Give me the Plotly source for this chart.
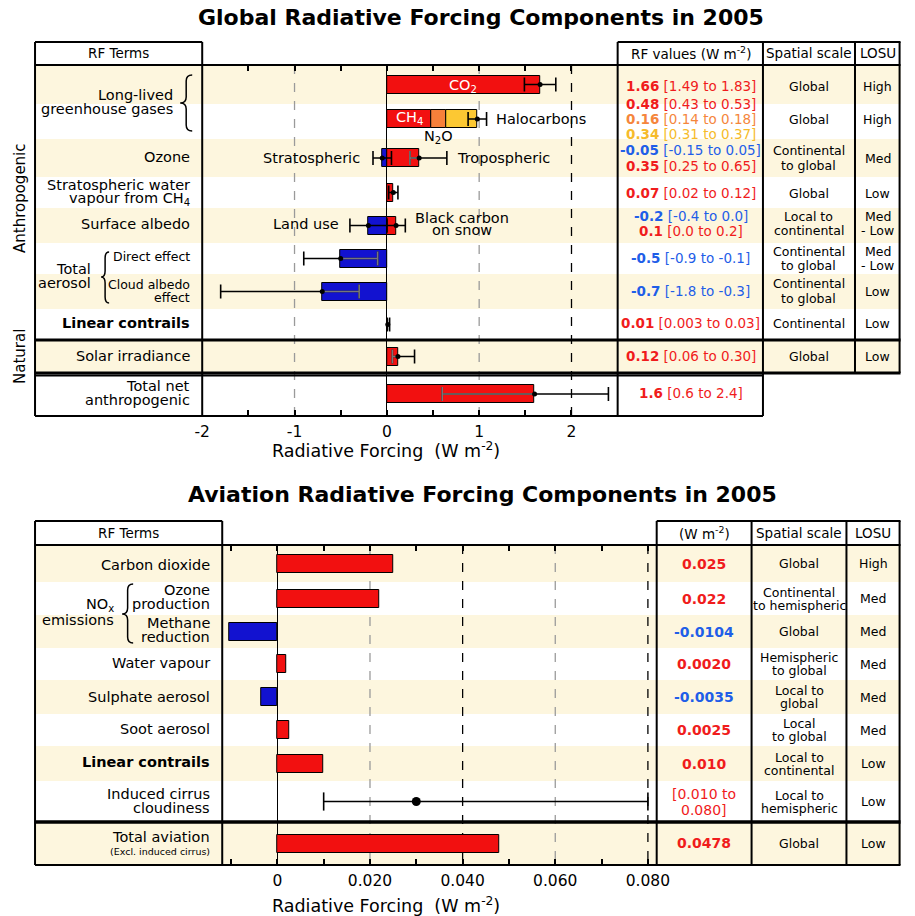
import plotly.graph_objects as go

W, H = 915, 916
FONT = "DejaVu Sans, Verdana, sans-serif"

RED = "#f21010"
BLUE = "#1212d0"
ORANGE = "#f7803a"
YELLOW = "#fcc833"
BEIGE = "#fdf6de"
TXT = {"pos": "#f01c1c", "neg": "#1f5ee8", "n2o": "#f5863c", "halo": "#f6bb2a"}
BAR = {"pos": RED, "neg": BLUE, "n2o": ORANGE, "halo": YELLOW}

# ---------------- global RF (W m-2) ----------------
glob_terms = ["CO2", "CH4 / N2O / Halocarbons", "Ozone", "Stratospheric water vapour",
              "Surface albedo", "Direct effect", "Cloud albedo effect",
              "Linear contrails", "Solar irradiance", "Total net anthropogenic"]
glob_bar_names = ["CO2", "CH4", "N2O", "Halocarbons", "Stratospheric O3", "Tropospheric O3",
                  "Strat. water vapour", "Land use", "Black carbon on snow", "Direct effect",
                  "Cloud albedo effect", "Linear contrails", "Solar irradiance", "Total net"]
glob_bar_rows = [0, 1, 1, 1, 2, 2, 3, 4, 4, 5, 6, 7, 8, 9]
glob_bar_values = [1.66, 0.48, 0.16, 0.34, -0.05, 0.35, 0.07, -0.2, 0.1, -0.5, -0.7, 0.01, 0.12, 1.6]
glob_bar_kind = ["pos", "pos", "n2o", "halo", "neg", "pos", "pos", "neg", "pos", "neg", "neg",
                 "pos", "pos", "pos"]

glob_err_rows = [0, 1, 2, 2, 3, 4, 4, 5, 6, 7, 8, 9]
glob_err_mid = [1.66, 0.98, -0.05, 0.35, 0.07, -0.2, 0.1, -0.5, -0.7, 0.01, 0.12, 1.6]
glob_err_lo = [1.49, 0.88, -0.15, 0.25, 0.02, -0.4, 0.0, -0.9, -1.8, 0.003, 0.06, 0.6]
glob_err_hi = [1.83, 1.08, 0.05, 0.65, 0.12, 0.0, 0.2, -0.1, -0.3, 0.03, 0.30, 2.4]
glob_err_grey = [False, False, False, True, False, False, False, True, True, False, True, True]

glob_val_text = ["1.66", "0.48", "0.16", "0.34", "-0.05", "0.35", "0.07", "-0.2", "0.1",
                 "-0.5", "-0.7", "0.01", "0.12", "1.6"]
glob_range_text = ["[1.49 to 1.83]", "[0.43 to 0.53]", "[0.14 to 0.18]", "[0.31 to 0.37]",
                   "[-0.15 to 0.05]", "[0.25 to 0.65]", "[0.02 to 0.12]", "[-0.4 to 0.0]",
                   "[0.0 to 0.2]", "[-0.9 to -0.1]", "[-1.8 to -0.3]", "[0.003 to 0.03]",
                   "[0.06 to 0.30]", "[0.6 to 2.4]"]
glob_scale = ["Global", "Global", "Continental\nto global", "Global", "Local to\ncontinental",
              "Continental\nto global", "Continental\nto global", "Continental", "Global"]
glob_losu = ["High", "High", "Med", "Low", "Med\n- Low", "Med\n- Low", "Low", "Low", "Low"]

# ---------------- aviation RF (W m-2) ----------------
av_terms = ["Carbon dioxide", "Ozone production", "Methane reduction", "Water vapour",
            "Sulphate aerosol", "Soot aerosol", "Linear contrails",
            "Induced cirrus cloudiness", "Total aviation"]
av_bar_rows = [0, 1, 2, 3, 4, 5, 6, 8]
av_bar_values = [0.025, 0.022, -0.0104, 0.0020, -0.0035, 0.0025, 0.010, 0.0478]
av_cirrus = [0.010, 0.030, 0.080]  # low, best, high
av_val_text = ["0.025", "0.022", "-0.0104", "0.0020", "-0.0035", "0.0025", "0.010",
               "[0.010 to\n0.080]", "0.0478"]
av_scale = ["Global", "Continental\nto hemispheric", "Global", "Hemispheric\nto global",
            "Local to\nglobal", "Local\nto global", "Local to\ncontinental",
            "Local to\nhemispheric", "Global"]
av_losu = ["High", "Med", "Med", "Med", "Med", "Med", "Low", "Low", "Low"]

# ---------------- layout in pixels ----------------
G_ROWS = [65, 104, 139, 177, 208, 243, 274, 309, 340, 373, 416]
A_ROWS = [545, 582, 615, 648, 680, 714, 746, 781, 822, 865]
g_mid = [(G_ROWS[i] + G_ROWS[i + 1]) / 2 for i in range(10)]
g_mid[1] = 119
g_mid[9] = 394
a_mid = [(A_ROWS[i] + A_ROWS[i + 1]) / 2 for i in range(9)]

shapes, ann = [], []

# the photographed page comes out shifted ~8px and squeezed ~2.4% horizontally;
# undo that, and squeeze the right-hand table columns a touch so they still fit
SQ, SHIFT, BREAK = 0.976, 8, 656


def page_x(x):
    p = (x - SHIFT) / SQ
    if x <= BREAK:
        return p
    pb = (BREAK - SHIFT) / SQ
    return pb + (x - BREAK) * (913.5 - pb) / (913 - BREAK)


def px(x):
    return page_x(x) / W


def py(y):
    return 1 - y / H


def text(x, y, s, size=14, color="black", anchor="center", bold=False, lh=None, angle=0):
    lines = s.split("\n")
    lh = lh or size * 1.08
    y0 = y - lh * (len(lines) - 1) / 2
    for i, ln in enumerate(lines):
        ann.append(dict(x=px(x), y=py(y0 + i * lh), xref="paper", yref="paper",
                        text=f"<b>{ln}</b>" if bold else ln, showarrow=False,
                        xanchor=anchor, yanchor="middle", textangle=angle,
                        font=dict(family=FONT, size=size, color=color)))


def hline(y, x0, x1, w=2):
    shapes.append(dict(type="line", xref="paper", yref="paper", x0=px(x0), x1=px(x1),
                       y0=py(y), y1=py(y), line=dict(color="black", width=w), layer="above"))


def vline(x, y0, y1, w=2):
    shapes.append(dict(type="line", xref="paper", yref="paper", x0=px(x), x1=px(x),
                       y0=py(y0), y1=py(y1), line=dict(color="black", width=w), layer="above"))


def band(y0, y1, x0=35, x1=913):
    shapes.append(dict(type="rect", xref="paper", yref="paper", x0=px(x0), x1=px(x1),
                       y0=py(y0), y1=py(y1), fillcolor=BEIGE, line=dict(width=0), layer="below"))


def brace(xt, xr, y0, y1, ym):
    xm = (xt + xr) / 2
    r = 6
    pts = (f"M {px(xr)},{py(y0)} Q {px(xm)},{py(y0)} {px(xm)},{py(y0 + r)} "
           f"L {px(xm)},{py(ym - r)} Q {px(xm)},{py(ym)} {px(xt)},{py(ym)} "
           f"Q {px(xm)},{py(ym)} {px(xm)},{py(ym + r)} "
           f"L {px(xm)},{py(y1 - r)} Q {px(xm)},{py(y1)} {px(xr)},{py(y1)}")
    shapes.append(dict(type="path", xref="paper", yref="paper", path=pts,
                       line=dict(color="black", width=1.5)))


def grid(xv, y0, y1, color, xref, yref):
    shapes.append(dict(type="line", xref=xref, yref=yref, x0=xv, x1=xv, y0=y0, y1=y1,
                       line=dict(color=color, width=1.3, dash="dash"), layer="below"))


fig = go.Figure()

# ---------------- top panel ----------------
for i in [0, 2, 4, 6, 8]:
    band(G_ROWS[i], G_ROWS[i + 1])
grid(-1, 65, 416, "#9a9a9a", "x", "y")
grid(1, 65, 416, "#9a9a9a", "x", "y")
grid(2, 65, 416, "black", "x", "y")

for name, r, v, k in zip(glob_bar_names, glob_bar_rows, glob_bar_values, glob_bar_kind):
    h = 12 if name == "Linear contrails" else 18
    fig.add_trace(go.Bar(x=[v], y=[g_mid[r]], orientation="h", width=h, name=name,
                         marker=dict(color=BAR[k], line=dict(color="black", width=1)),
                         showlegend=False, xaxis="x", yaxis="y"))


def err_traces(rows, mids, los, his, greys, ycoord, xa, ya, cap=10, dot=5):
    lx, ly, cx, cy, gx, gy, gcx, gcy = [], [], [], [], [], [], [], []
    for r, m, lo, hi, g in zip(rows, mids, los, his, greys):
        yc = ycoord[r]
        lx += [lo, hi, None]
        ly += [yc, yc, None]
        cx += [lo, hi]
        cy += [yc, yc]
        if g:
            inner = lo if m > 0 else hi
            gx += [inner, m, None]
            gy += [yc, yc, None]
            gcx.append(inner)
            gcy.append(yc)
    kw = dict(showlegend=False, xaxis=xa, yaxis=ya, hoverinfo="skip")
    fig.add_trace(go.Scatter(x=lx, y=ly, mode="lines", line=dict(color="black", width=1.5), **kw))
    fig.add_trace(go.Scatter(x=cx, y=cy, mode="markers",
                             marker=dict(symbol="line-ns", size=cap,
                                         line=dict(color="black", width=1.6)), **kw))
    if gx:
        fig.add_trace(go.Scatter(x=gx, y=gy, mode="lines", line=dict(color="#777777", width=1.5), **kw))
        fig.add_trace(go.Scatter(x=gcx, y=gcy, mode="markers",
                                 marker=dict(symbol="line-ns", size=cap,
                                             line=dict(color="#777777", width=1.6)), **kw))
    fig.add_trace(go.Scatter(x=mids, y=[ycoord[r] for r in rows], mode="markers",
                             marker=dict(color="black", size=dot), **kw))


err_traces(glob_err_rows, glob_err_mid, glob_err_lo, glob_err_hi, glob_err_grey, g_mid, "x", "y")

# ---------------- bottom panel ----------------
for i in [0, 2, 4, 6, 8]:
    band(A_ROWS[i], A_ROWS[i + 1])
grid(0.02, 545, 865, "#9a9a9a", "x2", "y2")
grid(0.04, 545, 865, "black", "x2", "y2")
grid(0.06, 545, 865, "#9a9a9a", "x2", "y2")
grid(0.08, 545, 865, "black", "x2", "y2")

for r, v in zip(av_bar_rows, av_bar_values):
    fig.add_trace(go.Bar(x=[v], y=[a_mid[r]], orientation="h", width=18, name=av_terms[r],
                         marker=dict(color=RED if v > 0 else BLUE, line=dict(color="black", width=1)),
                         showlegend=False, xaxis="x2", yaxis="y2"))
err_traces([7], [av_cirrus[1]], [av_cirrus[0]], [av_cirrus[2]], [False], a_mid, "x2", "y2",
           cap=13, dot=9)

# ---------------- table frames ----------------
# top
hline(42, 35, 202)
hline(42, 617, 913)
hline(65, 35, 913)
hline(340, 35, 913, 3)
hline(373, 35, 913, 3)
hline(375.5, 35, 768, 2)
hline(416, 35, 768)
vline(35, 42, 416)
vline(202, 42, 416)
vline(617, 42, 416)
vline(768, 42, 416)
vline(865, 42, 373)
vline(912, 42, 373)
# bottom
hline(521, 35, 222)
hline(521, 656, 913)
hline(545, 35, 913)
hline(822, 35, 913, 3.5)
hline(865, 35, 913)
for xx in [35, 222, 656, 756, 856, 912]:
    vline(xx, 521, 865)

# ---------------- texts ----------------
text(480, 18, "<b>Global Radiative Forcing Components in 2005</b>", size=22)
text(482, 494, "<b>Aviation Radiative Forcing Components in 2005</b>", size=22)

text(118, 53, "RF Terms", 13.5)
text(692, 53, "RF values (W m<sup>-2</sup>)", 13.5)
text(816, 53, "Spatial scale", 13.5)
text(889, 53, "LOSU", 13.5)

text(175, 102, "Long-lived\ngreenhouse gases", 14.5, anchor="right", lh=14)
brace(180, 192, 75, 131, 103)
text(192, 157, "Ozone", 14.5, anchor="right")
text(192, 192, "Stratospheric water\nvapour from CH<sub>4</sub>", 14.5, anchor="right", lh=14)
text(192, 224, "Surface albedo", 14.5, anchor="right")
text(93, 276, "Total\naerosol", 14.5, anchor="right", lh=14)
brace(101, 109, 252, 303, 277)
text(192, 257, "Direct effect", 12.5, anchor="right")
text(192, 291, "Cloud albedo\neffect", 12.5, anchor="right", lh=13)
text(192, 323, "Linear contrails", 14.5, anchor="right", bold=True)
text(192, 356, "Solar irradiance", 14.5, anchor="right")
text(192, 393, "Total net\nanthropogenic", 14.5, anchor="right", lh=14)
text(20, 198, "Anthropogenic", 15, angle=-90)
text(20, 357, "Natural", 15, angle=-90)

text(463, 86, "CO<sub>2</sub>", 14.5, color="white")
text(409, 118, "CH<sub>4</sub>", 14.5, color="white")
text(438, 137, "N<sub>2</sub>O", 14.5)
text(493, 119, "Halocarbons", 14.5, anchor="left")
text(362, 158, "Stratospheric", 14.5, anchor="right")
text(455, 158, "Tropospheric", 14.5, anchor="left")
text(341, 224, "Land use", 14.5, anchor="right")
text(462, 224, "Black carbon\non snow", 14.5, lh=13)

g_val_y = [86, 104, 119, 134, 150, 166, 193, 216, 231, 258, 291, 323, 356, 393]
for v, rg, k, yy in zip(glob_val_text, glob_range_text, glob_bar_kind, g_val_y):
    text(692, yy, f"<b>{v}</b> {rg}", 13.5, color=TXT[k])
g_scale_y = [86, 119, 158, 193, 224, 258, 291, 323, 356]
for s, l, yy in zip(glob_scale, glob_losu, g_scale_y):
    text(816, yy, s, 12.5, lh=14)
    text(889, yy, l, 12.5, lh=14)

text(386, 450, "Radiative Forcing  (W m<sup>-2</sup>)", 17.5)

# bottom texts
text(128, 533, "RF Terms", 13.5)
text(706, 533, "(W m<sup>-2</sup>)", 13.5)
text(806, 533, "Spatial scale", 13.5)
text(884, 533, "LOSU", 13.5)

text(212, 565, "Carbon dioxide", 14.5, anchor="right")
text(212, 597, "Ozone\nproduction", 14.5, anchor="right", lh=13.5)
text(212, 630, "Methane\nreduction", 14.5, anchor="right", lh=13.5)
text(116, 612, "NO<sub>x</sub>\nemissions", 14.5, anchor="right", lh=15)
brace(122, 133, 584, 643, 614)
text(212, 663, "Water vapour", 14.5, anchor="right")
text(212, 697, "Sulphate aerosol", 14.5, anchor="right")
text(212, 729, "Soot aerosol", 14.5, anchor="right")
text(212, 762, "Linear contrails", 14.5, anchor="right", bold=True)
text(212, 801, "Induced cirrus\ncloudiness", 14.5, anchor="right", lh=13.5)
text(212, 837, "Total aviation", 14.5, anchor="right")
text(212, 851, "(Excl. induced cirrus)", 9.5, anchor="right")

for i, (v, s, l) in enumerate(zip(av_val_text, av_scale, av_losu)):
    yy = a_mid[i] if i < 8 else 843
    if "[" in v:
        text(706, yy, v, 14, color=TXT["pos"], lh=16)
    else:
        text(706, yy, f"<b>{v}</b>", 14, color=TXT["neg"] if v.startswith("-") else TXT["pos"])
    text(806, yy, s, 12.5, lh=13)
    text(884, yy, l, 12.5)

text(386, 905, "Radiative Forcing  (W m<sup>-2</sup>)", 17.5)

# ---------------- axes ----------------
g_ticks = [-2, -1.5, -1, -0.5, 0, 0.5, 1, 1.5, 2]
a_ticks = [-0.01, 0, 0.01, 0.02, 0.03, 0.04, 0.05, 0.06, 0.07, 0.08]
axis_common = dict(showgrid=False, zeroline=True, zerolinecolor="black", zerolinewidth=1,
                   ticks="inside", ticklen=6, tickwidth=1.5, tickcolor="black", mirror="ticks",
                   showline=False, tickfont=dict(family=FONT, size=15.5, color="black"),
                   ticklabelstandoff=4, fixedrange=True)
fig.update_layout(
    width=W, height=H, margin=dict(l=0, r=0, t=0, b=0),
    paper_bgcolor="white", plot_bgcolor="rgba(0,0,0,0)",
    barmode="relative", bargap=0, showlegend=False,
    xaxis=dict(domain=[px(202), px(617)], range=[-2, 2.5], anchor="y",
               tickvals=g_ticks,
               ticktext=[f"{t:g}" if t == int(t) else "" for t in g_ticks], **axis_common),
    yaxis=dict(domain=[py(416), py(65)], range=[416, 65], visible=False, anchor="x"),
    xaxis2=dict(domain=[px(222), px(656)], range=[-0.0119, 0.0819], anchor="y2",
                tickvals=a_ticks,
                ticktext=["", "0", "", "0.020", "", "0.040", "", "0.060", "", "0.080"],
                **axis_common),
    yaxis2=dict(domain=[py(865), py(545)], range=[865, 545], visible=False, anchor="x2"),
    shapes=shapes, annotations=ann,
)

# let the figure fill the window exactly (no page margin, no scrollbars, no modebar)
fig.write_html("out.html", config={"displayModeBar": False},
               post_script="document.body.style.margin='0';document.body.style.overflow='hidden';")
